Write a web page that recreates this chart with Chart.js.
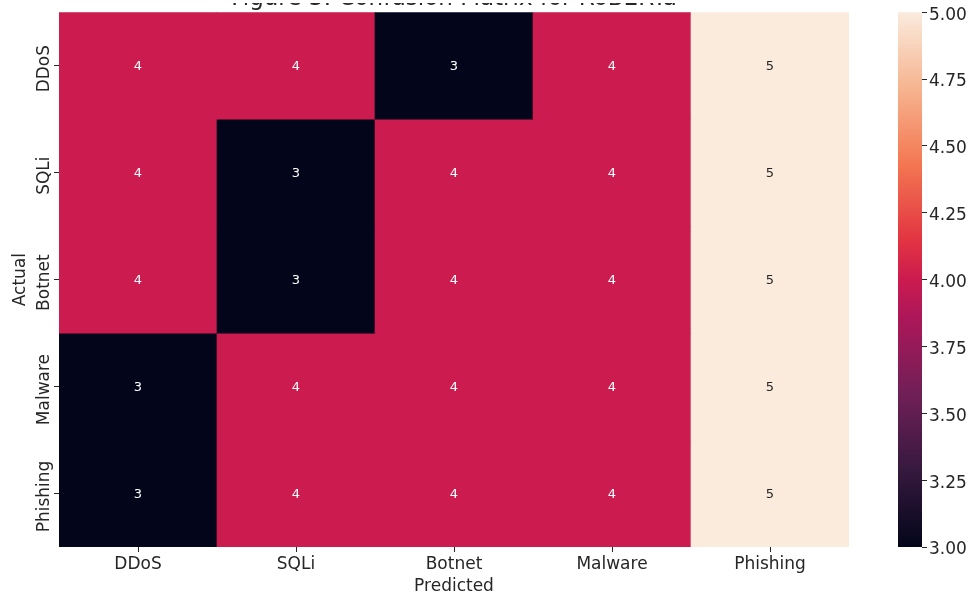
<!DOCTYPE html>
<html>
<head>
<meta charset="utf-8">
<script src="https://cdn.jsdelivr.net/npm/chart.js@4/dist/chart.umd.min.js"></script>
<style>
  html, body { margin: 0; padding: 0; background: #ffffff; }
  #wrap { width: 974px; height: 595px; position: relative; }
</style>
</head>
<body>
<div id="wrap"><canvas id="c" width="974" height="595"></canvas></div>
<script>
// Confusion matrix: rows are the actual class, columns the predicted class
const predictedLabels = ['DDoS', 'SQLi', 'Botnet', 'Malware', 'Phishing'];
const actualLabels = ['DDoS', 'SQLi', 'Botnet', 'Malware', 'Phishing'];
const rowDDoS = [4, 4, 3, 4, 5];
const rowSQLi = [4, 3, 4, 4, 5];
const rowBotnet = [4, 3, 4, 4, 5];
const rowMalware = [3, 4, 4, 4, 5];
const rowPhishing = [3, 4, 4, 4, 5];
const colorbarTicks = [3.00, 3.25, 3.50, 3.75, 4.00, 4.25, 4.50, 4.75, 5.00];
const titleText = 'Figure 3: Confusion Matrix for RoBERTa';

const rows = [rowDDoS, rowSQLi, rowBotnet, rowMalware, rowPhishing];
const vmin = 3, vmax = 5;

// "rocket" style colour ramp
const rampStops = [
  [0.000, [3, 5, 26]],
  [0.143, [53, 25, 62]],
  [0.286, [112, 31, 87]],
  [0.429, [173, 23, 89]],
  [0.500, [203, 27, 79]],
  [0.571, [225, 51, 66]],
  [0.714, [243, 118, 81]],
  [0.857, [246, 180, 143]],
  [1.000, [250, 235, 221]]
];

function rampColor(t) {
  t = Math.max(0, Math.min(1, t));
  for (let k = 1; k < rampStops.length; k++) {
    const [t1, c1] = rampStops[k];
    const [t0, c0] = rampStops[k - 1];
    if (t <= t1) {
      const f = (t - t0) / (t1 - t0);
      const c = c0.map((a, i) => Math.round(a + (c1[i] - a) * f));
      return `rgb(${c[0]},${c[1]},${c[2]})`;
    }
  }
  const c = rampStops[rampStops.length - 1][1];
  return `rgb(${c[0]},${c[1]},${c[2]})`;
}
const colorFor = v => rampColor((v - vmin) / (vmax - vmin));

const TEXT = '#262626';
const FONT = "'DejaVu Sans', sans-serif";
const CB_WIDTH = 24;

const datasets = rows.map((row, i) => ({
  label: actualLabels[i],
  data: row.map(() => [i, i + 1]),
  backgroundColor: row.map(colorFor),
  borderWidth: 0,
  grouped: false,
  barPercentage: 1,
  categoryPercentage: 1,
  xAxisID: 'x',
  yAxisID: 'y'
}));

const cellValues = {
  id: 'cellValues',
  afterDatasetsDraw(chart) {
    const ctx = chart.ctx;
    ctx.save();
    ctx.font = `13px ${FONT}`;
    ctx.textAlign = 'center';
    ctx.textBaseline = 'middle';
    rows.forEach((row, i) => {
      chart.getDatasetMeta(i).data.forEach((bar, j) => {
        const v = row[j];
        ctx.fillStyle = v >= 4.5 ? TEXT : '#ffffff';
        ctx.fillText(String(v), bar.x, (bar.y + bar.base) / 2 + 1);
      });
    });
    ctx.restore();
  }
};

const colorbar = {
  id: 'colorbar',
  beforeDatasetsDraw(chart) {
    const cb = chart.scales.cb;
    const yTop = cb.getPixelForValue(vmax);
    const yBot = cb.getPixelForValue(vmin);
    const ctx = chart.ctx;
    const g = ctx.createLinearGradient(0, yBot, 0, yTop);
    rampStops.forEach(([t]) => g.addColorStop(t, rampColor(t)));
    ctx.save();
    ctx.fillStyle = g;
    ctx.fillRect(cb.left - CB_WIDTH, yTop, CB_WIDTH, yBot - yTop);
    ctx.restore();
  }
};

// heading sits above the top edge of the canvas; only its lowest strip shows
const topTitle = {
  id: 'topTitle',
  afterDraw(chart) {
    const a = chart.chartArea;
    const ctx = chart.ctx;
    ctx.save();
    ctx.beginPath();
    ctx.rect(0, 3, chart.width, a.top - 3);
    ctx.clip();
    ctx.font = `23px ${FONT}`;
    ctx.fillStyle = TEXT;
    ctx.textAlign = 'center';
    ctx.textBaseline = 'alphabetic';
    ctx.fillText(titleText, (a.left + a.right) / 2, 4.5);
    ctx.restore();
  }
};

new Chart(document.getElementById('c'), {
  type: 'bar',
  data: { labels: predictedLabels, datasets },
  plugins: [colorbar, cellValues, topTitle],
  options: {
    responsive: false,
    animation: false,
    devicePixelRatio: 1,
    layout: { padding: { top: 12, left: 0, right: 0, bottom: 0 } },
    plugins: { legend: { display: false }, tooltip: { enabled: false } },
    scales: {
      x: {
        type: 'category',
        position: 'bottom',
        offset: true,
        grid: { offset: false, drawOnChartArea: false, drawTicks: true, tickLength: 5, color: TEXT },
        border: { display: false },
        ticks: { color: TEXT, font: { family: FONT, size: 17 }, padding: 2, minRotation: 0, maxRotation: 0, autoSkip: false },
        title: { display: true, text: 'Predicted', color: TEXT, font: { family: FONT, size: 17 }, padding: { top: 0, bottom: -2 } },
        afterFit: s => { s.height = 48; }
      },
      y: {
        type: 'linear',
        position: 'left',
        min: 0,
        max: 5,
        reverse: true,
        afterBuildTicks: s => { s.ticks = [0.5, 1.5, 2.5, 3.5, 4.5].map(v => ({ value: v })); },
        grid: { drawOnChartArea: false, drawTicks: true, tickLength: 5, color: TEXT },
        border: { display: false },
        ticks: {
          callback: v => actualLabels[Math.floor(v)],
          color: TEXT,
          font: { family: FONT, size: 17 },
          minRotation: 90,
          maxRotation: 90,
          crossAlign: 'center',
          padding: -26,
          labelOffset: 3,
          autoSkip: false
        },
        title: { display: true, text: 'Actual', color: TEXT, font: { family: FONT, size: 17 }, padding: { top: 10, bottom: 0 } },
        afterFit: s => { s.width = 59; }
      },
      sp: {
        type: 'linear',
        position: 'right',
        weight: 1,
        min: 0,
        max: 1,
        display: true,
        grid: { display: false },
        border: { display: false },
        ticks: { display: false },
        afterFit: s => { s.width = 73; }
      },
      cb: {
        type: 'linear',
        position: 'right',
        weight: 2,
        min: vmin,
        max: vmax,
        afterBuildTicks: s => { s.ticks = colorbarTicks.map(v => ({ value: v })); },
        grid: { drawOnChartArea: false, drawTicks: true, tickLength: 5, color: TEXT },
        border: { display: false },
        ticks: { callback: v => Number(v).toFixed(2), color: TEXT, font: { family: FONT, size: 17 }, padding: 2, labelOffset: 3, autoSkip: false },
        afterFit: s => { s.width = 52; }
      }
    }
  }
});
</script>
</body>
</html>
